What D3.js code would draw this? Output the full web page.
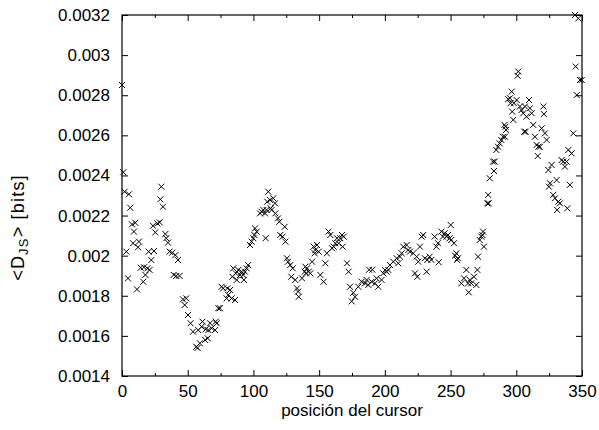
<!DOCTYPE html>
<html>
<head>
<meta charset="utf-8">
<script src="https://cdn.jsdelivr.net/npm/d3@7"></script>
<style>
  html, body { margin: 0; padding: 0; background: #fff; }
  svg { display: block; }
  text { font-family: "Liberation Sans", Arial, Helvetica, sans-serif; fill: #000; }
</style>
</head>
<body>
<svg id="chart" width="599" height="430"></svg>
<script>
// ---- data ----
const xs = [
  0,1,2,3.3,4.6,5.3,6.3,7.6,8.4,9.1,10.1,11.4,12.2,12.9,14.2,16.2,16.7,17.8,19.3,20.3,
  21,22.3,23.6,24.3,25.3,26.9,28.7,29.2,29.9,31.2,33,33.7,35,36.2,38.2,39.3,40.6,41.3,42.6,43.8,
  46.4,47.7,48.9,50.2,52.2,54,56.5,57.5,58,59.3,60.6,61.2,63.2,63.8,65.2,65.7,67,68.2,70.8,71.3,
  72,73.3,74.5,75.8,77,79.6,80.1,80.8,82.2,83.4,84,84.7,86,86.6,87.3,88.5,89.8,91,92.2,92.7,
  93.6,94.8,96,97.4,98.6,99.9,100.7,101.2,102.5,105,106.2,107.5,108.8,109.3,110,110.5,111.3,112.6,113.1,113.8,
  115.1,116.4,116.7,118.7,119.7,120.4,122.2,123.8,124.3,125.5,126.3,128,128.8,129.9,131.8,133.2,134,134.5,137,139,
  139.5,140,140.8,142,143.3,144.6,145.8,146.6,147.1,148.4,149.7,150.9,153.4,154.7,155.9,157.2,158.5,159.8,161,162.3,
  163.6,164.8,166.1,167.4,167.9,168.7,171.2,172.4,173.5,174.8,176,177.3,179.8,182.3,184.9,186.1,187.4,188,189.9,190.5,
  192.5,193.7,195,197.5,198.8,200.1,201.4,202.6,203.9,206.4,209,210.2,211.5,212.8,214,216.6,217.8,219.1,221.6,222.9,
  224.2,224.7,225.4,226.7,228,229.2,230.5,231.8,232.3,234.1,235.4,237.9,239.2,240.4,241,243,244.2,245.5,246.8,248,
  249.3,250.1,250.5,252.6,253.4,254.4,254.9,255.6,258.2,260.2,262,263.3,263.8,264.6,265.7,267.8,269.6,270.4,270.9,272.2,
  273.4,274.2,274.7,275.4,278,278.6,279,279.8,282.3,283,283.6,284.8,286.1,287.3,288.6,289.9,291,291.4,291.8,292.2,
  293.8,295.2,295.6,296.5,296.9,297.7,298.2,300.3,301,301.5,302.8,304,305.3,306.1,306.6,307.1,307.8,309.7,310.4,311.7,
  312.9,314.2,315.5,316.3,316.8,318,319.3,320.6,321,321.8,323.1,324.4,324.8,325.6,326.9,328.1,329.4,330.7,331.1,331.9,
  333.2,334.5,335.7,337,338.3,338.8,339.6,340.8,342.1,343.4,344.7,345.2,346,347.2,348.5,349.8
];
const ys = [
  0.002851,0.002416,0.002319,0.002020,0.001887,0.002306,0.002239,0.002156,0.002062,0.002120,0.002164,0.001832,0.002042,0.002070,0.001940,0.001870,0.001942,0.001904,0.001937,0.002020,
  0.001929,0.001978,0.002149,0.002023,0.002116,0.002161,0.002166,0.002281,0.002344,0.002244,0.002108,0.002087,0.002065,0.002020,0.002015,0.001904,0.002003,0.001899,0.001978,0.001899,
  0.001782,0.001754,0.001787,0.001704,0.001663,0.001621,0.001546,0.001540,0.001629,0.001563,0.001646,0.001671,0.001580,0.001633,0.001588,0.001629,0.001663,0.001638,0.001629,0.001671,
  0.001663,0.001738,0.001738,0.001845,0.001837,0.001787,0.001837,0.001804,0.001829,0.001787,0.001895,0.001937,0.001779,0.001912,0.001879,0.001929,0.001904,0.001920,0.001904,0.001879,
  0.001920,0.001937,0.001953,0.002053,0.002070,0.002087,0.002103,0.002136,0.002120,0.002211,0.002219,0.002228,0.002211,0.002087,0.002228,0.002269,0.002319,0.002278,0.002236,0.002228,
  0.002286,0.002261,0.002211,0.002186,0.002169,0.002103,0.002095,0.002144,0.002070,0.001987,0.001970,0.001953,0.001895,0.001937,0.001879,0.001837,0.001821,0.001795,0.001887,0.001920,
  0.001945,0.001912,0.001937,0.001920,0.001912,0.001970,0.002045,0.002012,0.002028,0.002053,0.002020,0.001904,0.001870,0.001962,0.002012,0.002120,0.002103,0.002037,0.002045,0.002062,
  0.002087,0.002062,0.002087,0.002103,0.002045,0.002095,0.001962,0.001920,0.001845,0.001772,0.001815,0.001795,0.001845,0.001870,0.001862,0.001879,0.001854,0.001930,0.001870,0.001930,
  0.001862,0.001887,0.001845,0.001879,0.001912,0.001929,0.001920,0.001929,0.001953,0.001970,0.001987,0.001962,0.001995,0.002012,0.002045,0.002053,0.002028,0.002020,0.002012,0.001912,
  0.001995,0.001895,0.001970,0.002045,0.002095,0.002103,0.001987,0.001920,0.001979,0.001995,0.001979,0.002095,0.002045,0.002062,0.001967,0.002120,0.002095,0.002112,0.002095,0.002103,
  0.002087,0.002153,0.002078,0.002062,0.002000,0.002012,0.001979,0.001987,0.001862,0.001887,0.001929,0.001862,0.001817,0.001879,0.001862,0.001895,0.001854,0.001929,0.001995,0.002078,
  0.002095,0.002103,0.002120,0.002045,0.002261,0.002303,0.002261,0.002386,0.002469,0.002422,0.002469,0.002527,0.002543,0.002560,0.002577,0.002593,0.002652,0.002593,0.002643,0.002627,
  0.002780,0.002785,0.002760,0.002818,0.002718,0.002677,0.002760,0.002776,0.002897,0.002918,0.002744,0.002726,0.002710,0.002618,0.002744,0.002618,0.002693,0.002776,0.002735,0.002710,
  0.002652,0.002593,0.002552,0.002497,0.002543,0.002543,0.002635,0.002744,0.002706,0.002610,0.002577,0.002427,0.002344,0.002361,0.002452,0.002303,0.002286,0.002377,0.002228,0.002269,
  0.002261,0.002477,0.002469,0.002444,0.002469,0.002236,0.002527,0.002353,0.002510,0.002610,0.003200,0.002943,0.002801,0.003183,0.002876,0.002876
];
const xTicks = [0, 50, 100, 150, 200, 250, 300, 350];
const xMinorTicks = [25, 75, 125, 175, 225, 275, 325];
const yTicks = [0.0014, 0.0016, 0.0018, 0.002, 0.0022, 0.0024, 0.0026, 0.0028, 0.003, 0.0032];
const xDomain = [0, 350];
const yDomain = [0.0014, 0.0032];
const xLabel = "posición del cursor";

// ---- layout ----
const W = 599, H = 430;
const m = { left: 122, right: 17, top: 15, bottom: 54 };
const iw = W - m.left - m.right, ih = H - m.top - m.bottom;

const svg = d3.select("#chart");
const g = svg.append("g").attr("transform", `translate(${m.left},${m.top})`);

const x = d3.scaleLinear().domain(xDomain).range([0, iw]);
const y = d3.scaleLinear().domain(yDomain).range([ih, 0]);

const fmtY = v => String(+v.toFixed(4));
const FS = 17;

function styleAxis(sel) {
  sel.select(".domain").remove();
  sel.selectAll("line").attr("stroke", "#000").attr("stroke-width", 1);
  sel.selectAll("text").attr("font-size", FS).attr("font-family", '"Liberation Sans", Arial, sans-serif').attr("fill", "#000");
}

// bottom axis with labels
g.append("g").attr("transform", `translate(0,${ih})`)
  .call(d3.axisBottom(x).tickValues(xTicks).tickSizeInner(-6).tickSizeOuter(0).tickPadding(9).tickFormat(d3.format("d")))
  .call(styleAxis);
g.append("g").attr("transform", `translate(0,${ih})`)
  .call(d3.axisBottom(x).tickValues(xMinorTicks).tickSizeInner(-3).tickSizeOuter(0).tickFormat(""))
  .call(styleAxis);
// top mirror
g.append("g")
  .call(d3.axisTop(x).tickValues(xTicks).tickSizeInner(-6).tickSizeOuter(0).tickFormat(""))
  .call(styleAxis);
g.append("g")
  .call(d3.axisTop(x).tickValues(xMinorTicks).tickSizeInner(-3).tickSizeOuter(0).tickFormat(""))
  .call(styleAxis);
// left axis with labels
g.append("g")
  .call(d3.axisLeft(y).tickValues(yTicks).tickSizeInner(-6).tickSizeOuter(0).tickPadding(12).tickFormat(fmtY))
  .call(styleAxis);
// right mirror
g.append("g").attr("transform", `translate(${iw},0)`)
  .call(d3.axisRight(y).tickValues(yTicks).tickSizeInner(-6).tickSizeOuter(0).tickFormat(""))
  .call(styleAxis);

// border
g.append("rect").attr("x", 0).attr("y", 0).attr("width", iw).attr("height", ih)
  .attr("fill", "none").attr("stroke", "#000").attr("stroke-width", 1.2);

// points as "x" marks
const data = xs.map((v, i) => ({ x: v, y: ys[i] }));
const r = 3;
g.append("g").selectAll("path").data(data).join("path")
  .attr("d", d => {
    const px = x(d.x), py = y(d.y);
    return `M${px - r},${py - r}L${px + r},${py + r}M${px - r},${py + r}L${px + r},${py - r}`;
  })
  .attr("stroke", "#000").attr("stroke-width", 1).attr("fill", "none");

// x label
svg.append("text").attr("x", m.left + iw / 2).attr("y", 416)
  .attr("text-anchor", "middle").attr("font-size", FS).text(xLabel);

// y label with subscript
const yl = svg.append("text")
  .attr("transform", `translate(23.5,227.5) rotate(-90)`)
  .attr("text-anchor", "middle").attr("font-size", 18).attr("letter-spacing", 1.2);
yl.append("tspan").text("<D");
yl.append("tspan").attr("font-size", 13).attr("dy", 4).text("JS");
yl.append("tspan").attr("dy", -4).text("> [bits]");
</script>
</body>
</html>
